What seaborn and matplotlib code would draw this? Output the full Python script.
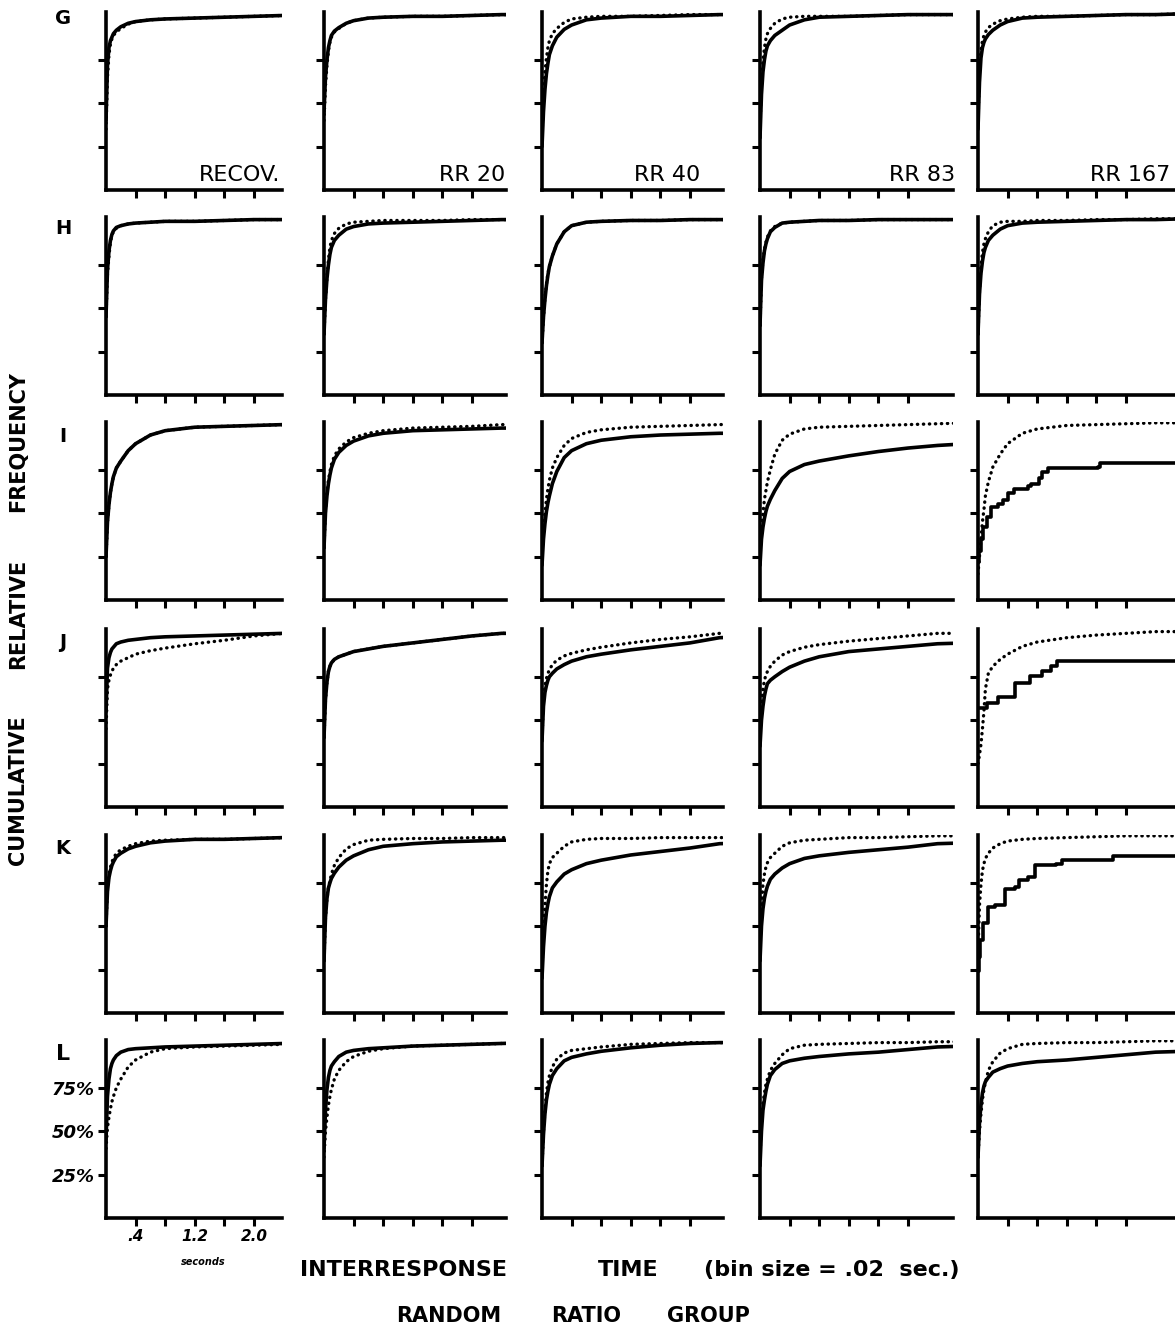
import matplotlib
matplotlib.use("Agg")
import matplotlib.pyplot as plt
import seaborn as sns

# interresponse time grid (seconds) shared by the smooth curves
irt_sec = [0, 0.02, 0.04, 0.06, 0.08, 0.10, 0.14, 0.20, 0.30, 0.40, 0.60, 0.80, 1.20, 1.60, 2.00, 2.40, 2.80]

groups = ["RECOV.", "RR 20", "RR 40", "RR 83", "RR 167"]
subjects = ["G", "H", "I", "J", "K", "L"]

# dotted = baseline curve, solid = ratio condition (cumulative %)
G_dot = [[35, 65, 78, 84, 87, 89, 91, 93, 95.5, 97, 98, 98.5, 99, 99.5, 100, 100.5, 101],
         [40, 60, 72, 80, 85, 88, 91, 93, 96, 97.5, 99, 99.5, 100, 100, 100.5, 101, 101],
         [30, 55, 68, 76, 82, 86, 90, 93, 96.5, 98.5, 99.5, 100, 100, 100.5, 101, 101, 101],
         [35, 62, 74, 82, 87, 90, 93, 96, 98.5, 99.5, 100, 100, 100, 100.5, 101, 101, 101],
         [40, 68, 80, 86, 89, 91, 93.5, 95.5, 97.5, 98.5, 99.5, 100, 100, 100.5, 101, 101, 101.5]]
G_sol = [[40, 72, 82, 86, 88, 90, 92, 94, 96, 97, 98, 98.5, 99, 99.5, 100, 100.5, 101],
         [45, 65, 75, 82, 86, 89, 91.5, 93.5, 96, 97.5, 99, 99.5, 100, 100, 100.5, 101, 101],
         [25, 45, 58, 67, 73, 78, 83, 88, 92.5, 95, 98, 99, 100, 100, 100.5, 101, 101],
         [30, 55, 68, 75, 80, 83, 86, 89, 92, 95, 98, 99.5, 100, 100.5, 101, 101, 101],
         [35, 62, 76, 82, 85, 87, 89.5, 92, 95, 97, 99, 99.5, 100, 100.5, 101, 101, 101.5]]

H_dot = [[45, 70, 80, 88, 92, 94, 96, 97.5, 98.5, 99, 99.5, 100, 100, 100.5, 101, 101, 101],
         [35, 55, 68, 78, 85, 89, 93, 96, 98.5, 99.5, 100, 100.5, 100.5, 100.5, 101, 101, 101],
         [30, 45, 56, 64, 70, 74, 80, 87, 94, 97.5, 99.5, 100, 100.5, 100.5, 101, 101, 101],
         [40, 68, 78, 84, 88, 91, 94.5, 97, 99, 99.5, 100, 100.5, 100.5, 101, 101, 101, 101],
         [35, 60, 74, 82, 87, 90, 94, 97.5, 99.5, 100, 100, 100.5, 100.5, 101, 101, 101.5, 101.5]]
H_sol = [[45, 72, 83, 89, 92.5, 94.5, 96.5, 97.5, 98.5, 99, 99.5, 100, 100, 100.5, 101, 101, 101],
         [35, 55, 67, 75, 81, 85, 89, 92, 95.5, 97, 98.5, 99, 99.5, 100, 100.5, 101, 101],
         [30, 45, 55, 63, 69, 74, 80, 87, 94, 97.5, 99.5, 100, 100.5, 100.5, 101, 101, 101],
         [40, 66, 76, 83, 87, 90, 94, 96.5, 99, 99.5, 100, 100.5, 100.5, 101, 101, 101, 101],
         [35, 58, 70, 77, 82, 85, 89, 92, 95.5, 97.5, 99, 99.5, 100, 100.5, 101, 101, 101.5]]

I_dot = [[25, 45, 55, 62, 67, 71, 76, 80, 86, 90, 95, 97.5, 99.5, 100, 100.5, 101, 101],
         [30, 52, 62, 69, 74, 78, 83, 87, 91, 93.5, 96, 97.5, 99, 99.5, 100, 101, 101],
         [25, 40, 50, 58, 64, 69, 76, 82, 89, 93, 96.5, 98, 99.5, 100, 100.5, 101, 101.5],
         [25, 40, 50, 58, 63, 68, 75, 84, 92, 95.5, 98.5, 99.5, 100, 100.5, 101, 101.5, 102],
         [15, 25, 35, 45, 52, 60, 68, 76.5, 84, 90, 96, 98.5, 100.5, 101, 101.5, 102, 102]]
I_sol = [[25, 45, 55, 62, 67, 71, 76, 80, 86, 90, 95, 97.5, 99.5, 100, 100.5, 101, 101],
         [30, 50, 60, 67, 72, 76, 81, 85, 89, 91.5, 94.5, 96, 97.5, 98, 98.5, 99, 99],
         [20, 35, 44, 51, 56, 60, 67, 74, 82, 86, 90, 92, 94, 95, 95.5, 96, 96],
         [20, 35, 42, 47, 51, 54, 58, 63, 70, 74, 78, 80, 83, 85.5, 87.5, 89, 90]]
I5_step_x = [0, 0.02, 0.04, 0.07, 0.12, 0.18, 0.27, 0.34, 0.40, 0.49, 0.67, 0.72, 0.83, 0.87, 0.94, 1.62, 1.65, 2.9]
I5_step_y = [22, 28, 35, 42, 48, 53.5, 55.5, 57.5, 61.5, 63.8, 65.5, 67, 70, 73.5, 76, 76.4, 78.7, 79.5]

J_dot = [[45, 68, 73, 76, 78, 80, 82, 84, 86, 88, 90, 91.5, 94, 96, 98.5, 100, 100],
         [40, 62, 72, 78, 81, 83, 85, 86.5, 88, 89.5, 91, 92.5, 94.5, 96.5, 98.5, 100, 100],
         [40, 62, 70, 74, 77, 79, 82, 84.5, 87, 88.5, 90.5, 92, 94.5, 96.5, 98, 100, 100],
         [40, 60, 68, 73, 76, 78, 81, 84, 87.5, 89.5, 92, 93.5, 95.5, 97, 98.5, 100, 100],
         [25, 30, 36, 45, 55, 68, 77, 81, 85, 88, 92.5, 95, 97.5, 99, 100, 101, 101]]
J_sol = [[55, 80, 86, 89, 91, 92, 94, 95, 96, 96.5, 97.5, 98, 98.5, 99, 99.5, 100, 100],
         [40, 62, 72, 78, 81, 83, 85, 86.5, 88, 89.5, 91, 92.5, 94.5, 96.5, 98.5, 100, 100],
         [38, 58, 66, 70, 73, 75, 77, 79.5, 82, 84, 86.5, 88, 90.5, 92.5, 94.5, 97.5, 98],
         [35, 50, 58, 64, 68, 71, 73, 75, 78, 80.5, 84, 86.5, 89.5, 91, 92.5, 94, 94.5]]
J5_step_x = [0, 0.12, 0.27, 0.5, 0.7, 0.86, 0.98, 1.07, 2.9]
J5_step_y = [57, 60, 63.5, 71.5, 75.5, 78.5, 81, 84, 84]

K_dot = [[50, 72, 80, 84, 87, 89, 92, 94, 96, 97.5, 99, 99.5, 100, 100, 100.5, 101, 101],
         [30, 55, 66, 72, 76, 80, 85, 89.5, 94.5, 97, 99.5, 100, 100.5, 100.5, 101, 101, 101],
         [25, 48, 62, 74, 82, 86, 89.5, 92, 96, 98.5, 100, 100.5, 100.5, 101, 101, 101, 101],
         [35, 62, 74, 80, 84, 86.5, 89.5, 92, 96, 98, 99.5, 100, 101, 101, 101.5, 102, 102],
         [35, 62, 74, 82, 86, 89, 92, 95, 97.5, 99, 100, 100.5, 101, 101.5, 102, 102, 102]]
K_sol = [[50, 70, 78, 82, 85, 87, 90, 92, 94.5, 96, 98, 99, 100, 100, 100.5, 101, 101],
         [30, 55, 66, 72, 75, 77.5, 80.5, 84, 88, 90.5, 94, 96, 97.5, 98.5, 99, 99.5, 99.5],
         [20, 38, 50, 58, 63, 67, 72, 75.5, 80, 82.5, 86, 88, 91, 93, 95, 97.5, 98],
         [30, 50, 60, 66, 70, 73, 77, 80, 83.5, 86, 89, 90.5, 92.5, 94, 95.5, 97.5, 98]]
K5_step_x = [0, 0.01, 0.03, 0.07, 0.14, 0.23, 0.36, 0.5, 0.55, 0.68, 0.77, 1.05, 1.14, 1.82, 2.9]
K5_step_y = [24, 32, 42, 52, 61, 62, 71.5, 72.5, 76.5, 78.5, 85, 86, 88, 90.5, 90.5]

L_dot = [[40, 52, 58, 63, 67, 70, 75, 80, 87, 91, 95.5, 97.5, 98.5, 99, 99.5, 100, 100],
         [35, 50, 58, 65, 70, 74, 80, 85, 90, 93, 96, 97.5, 99, 99.5, 100, 100.5, 101],
         [30, 50, 62, 72, 78, 82, 87, 91.5, 95, 96.5, 97.5, 98.5, 100, 100.5, 101, 101, 101],
         [35, 55, 66, 72, 77, 80, 85, 89, 94, 97.5, 99.5, 100, 100.5, 101, 101, 101.5, 101.5],
         [35, 50, 60, 68, 74, 78, 85, 90, 95, 97.5, 100, 100.5, 101, 101, 101.5, 102, 102]]
L_sol = [[45, 70, 80, 86, 89, 91, 93.5, 95.5, 97, 97.5, 98, 98.5, 99, 99.5, 100, 100.5, 100.5],
         [40, 62, 74, 81, 85, 87.5, 90, 93, 95.5, 96.5, 97.5, 98, 99, 99.5, 100, 100.5, 101],
         [30, 48, 60, 68, 73, 77, 82, 86, 90.5, 92.5, 94.5, 96, 98, 99.5, 100.5, 101, 101],
         [30, 50, 62, 68, 73, 77, 82, 85.5, 89, 90.5, 92, 93, 94.5, 95.5, 97, 98.5, 99],
         [35, 55, 65, 72, 76, 78.5, 81, 84, 86, 87.5, 89, 90, 91, 92.5, 94, 95.5, 96]]

all_dot = [G_dot, H_dot, I_dot, J_dot, K_dot, L_dot]
all_sol = [G_sol, H_sol, I_sol, J_sol, K_sol, L_sol]
step_curves = {2: (I5_step_x, I5_step_y), 3: (J5_step_x, J5_step_y), 4: (K5_step_x, K5_step_y)}

sns.set_style("ticks")
plt.rcParams["font.family"] = ["DejaVu Sans"]
for key in ["text.color", "axes.edgecolor", "xtick.color", "ytick.color", "axes.labelcolor"]:
    plt.rcParams[key] = "black"

W, H = 1175, 1332
fig = plt.figure(figsize=(W / 100, H / 100), dpi=100)

col_left = [106, 324, 542, 760, 978]
col_w = [176, 182, 181, 193, 230]
row_bottom = [190, 395, 600, 807, 1013, 1218]
panel_h = 178
px_per_sec = 74

for r in range(6):
    for c in range(5):
        ax = fig.add_axes([col_left[c] / W, 1 - row_bottom[r] / H, col_w[c] / W, panel_h / H])
        sns.lineplot(x=irt_sec, y=all_dot[r][c], ax=ax, color="black", linewidth=2.4,
                     linestyle=(0, (0.1, 1.7)), dash_capstyle="round", estimator=None)
        if c == 4 and r in step_curves:
            sx, sy = step_curves[r]
            sns.lineplot(x=sx, y=sy, ax=ax, color="black", linewidth=2.6,
                         drawstyle="steps-post", estimator=None)
        else:
            sns.lineplot(x=irt_sec, y=all_sol[r][c], ax=ax, color="black", linewidth=2.6,
                         estimator=None)
        ax.set_xlim(0, col_w[c] / px_per_sec)
        ax.set_ylim(0, 102.5)
        sns.despine(ax=ax)
        for side in ["left", "bottom"]:
            ax.spines[side].set_linewidth(2.6)
            ax.spines[side].set_color("black")
        ax.set_xticks([0.4, 0.8, 1.2, 1.6, 2.0])
        ax.set_yticks([25, 50, 75])
        ax.tick_params(direction="out", length=6, width=2.2, color="black")
        if r == 5 and c == 0:
            ax.set_xticklabels([".4", "", "1.2", "", "2.0"], fontsize=11,
                               fontstyle="italic", fontweight="bold")
            ax.set_yticklabels(["25%", "50%", "75%"], fontsize=13,
                               fontstyle="italic", fontweight="bold")
            ax.tick_params(pad=2)
        else:
            ax.set_xticklabels([])
            ax.set_yticklabels([])
        ax.set_xlabel("")
        ax.set_ylabel("")

# group names in the top row
label_right = [280, 505, 700, 955, 1170]
for c in range(5):
    fig.text(label_right[c] / W, 1 - 181 / H, groups[c], ha="right", va="baseline",
             fontsize=16, color="black")

# subject letters
letter_y = [19, 228, 436, 642, 849, 1054]
for r in range(6):
    fig.text(63 / W, 1 - letter_y[r] / H, subjects[r], ha="center", va="center",
             fontsize=16 if r == 5 else 14, fontweight="bold")

fig.text(203 / W, 1 - 1262 / H, "seconds", ha="center", va="center", fontsize=7,
         fontstyle="italic", fontweight="bold")

# bottom labels
for word, x, ha in [("INTERRESPONSE", 300, "left"), ("TIME", 598, "left"),
                    ("(bin size = .02  sec.)", 960, "right")]:
    fig.text(x / W, 1 - 1270 / H, word, ha=ha, va="center", fontsize=16, fontweight="bold")
for word, x in [("RANDOM", 449), ("RATIO", 586), ("GROUP", 708)]:
    fig.text(x / W, 1 - 1316 / H, word, ha="center", va="center", fontsize=15, fontweight="bold")

# side label
for word, y in [("CUMULATIVE", 790), ("RELATIVE", 614), ("FREQUENCY", 441)]:
    fig.text(18 / W, 1 - y / H, word, ha="center", va="center", rotation=90,
             fontsize=15, fontweight="bold")

fig.savefig("out.png", dpi=100)
